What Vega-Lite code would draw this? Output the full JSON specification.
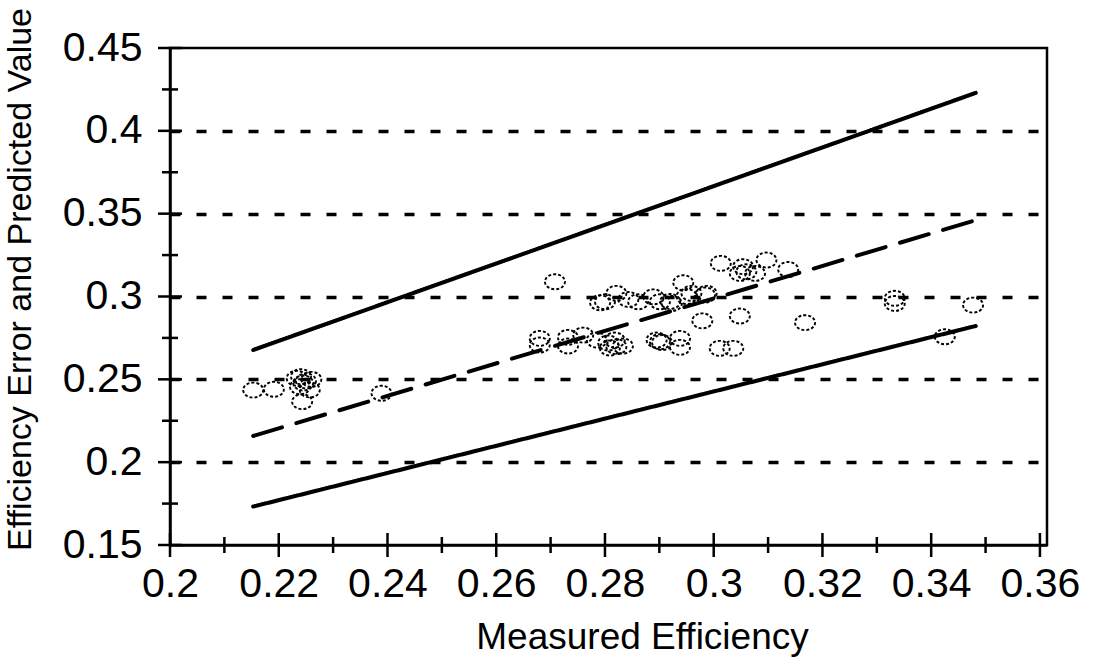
{
  "$schema": "https://vega.github.io/schema/vega-lite/v6.json",
  "autosize": "none",
  "width": 877,
  "height": 497,
  "padding": {"left": 170, "top": 48, "right": 50, "bottom": 126},
  "background": "white",
  "config": {
    "view": {"stroke": "black", "strokeWidth": 2.5},
    "font": "Liberation Sans",
    "axis": {"labelFont": "Liberation Sans", "titleFont": "Liberation Sans", "labelColor": "black", "titleColor": "black", "tickColor": "black", "domainColor": "black", "titleFontWeight": "normal"}
  },
  "datasets": {
    "lines": [
      {"series": "upper", "x": 0.2153, "y": 0.2677},
      {"series": "upper", "x": 0.3482, "y": 0.4229},
      {"series": "mid", "x": 0.2153, "y": 0.2158},
      {"series": "mid", "x": 0.3482, "y": 0.3461},
      {"series": "lower", "x": 0.2153, "y": 0.1732},
      {"series": "lower", "x": 0.3482, "y": 0.2822}
    ],
    "xticks": [
      {"v": 0.2, "kind": "major"}, {"v": 0.21, "kind": "minor"}, {"v": 0.22, "kind": "major"}, {"v": 0.23, "kind": "minor"},
      {"v": 0.24, "kind": "major"}, {"v": 0.25, "kind": "minor"}, {"v": 0.26, "kind": "major"}, {"v": 0.27, "kind": "minor"},
      {"v": 0.28, "kind": "major"}, {"v": 0.29, "kind": "minor"}, {"v": 0.3, "kind": "major"}, {"v": 0.31, "kind": "minor"},
      {"v": 0.32, "kind": "major"}, {"v": 0.33, "kind": "minor"}, {"v": 0.34, "kind": "major"}, {"v": 0.35, "kind": "minor"},
      {"v": 0.36, "kind": "major"}
    ],
    "yticks": [
      {"v": 0.15, "kind": "major"}, {"v": 0.175, "kind": "minor"}, {"v": 0.2, "kind": "major"}, {"v": 0.225, "kind": "minor"},
      {"v": 0.25, "kind": "major"}, {"v": 0.275, "kind": "minor"}, {"v": 0.3, "kind": "major"}, {"v": 0.325, "kind": "minor"},
      {"v": 0.35, "kind": "major"}, {"v": 0.375, "kind": "minor"}, {"v": 0.4, "kind": "major"}, {"v": 0.425, "kind": "minor"},
      {"v": 0.45, "kind": "major"}
    ],
    "points": [
      {"x": 0.2153, "y": 0.2435}, {"x": 0.2191, "y": 0.2440},
      {"x": 0.2233, "y": 0.2506}, {"x": 0.2241, "y": 0.2516}, {"x": 0.2260, "y": 0.2500}, {"x": 0.2245, "y": 0.2478},
      {"x": 0.2239, "y": 0.2455}, {"x": 0.2257, "y": 0.2436}, {"x": 0.2243, "y": 0.2365}, {"x": 0.2250, "y": 0.2490},
      {"x": 0.2389, "y": 0.2416},
      {"x": 0.2708, "y": 0.3089},
      {"x": 0.2680, "y": 0.2747}, {"x": 0.2680, "y": 0.2707}, {"x": 0.2732, "y": 0.2753}, {"x": 0.2732, "y": 0.2701},
      {"x": 0.2760, "y": 0.2767}, {"x": 0.2785, "y": 0.2737}, {"x": 0.2806, "y": 0.2719}, {"x": 0.2818, "y": 0.2737},
      {"x": 0.2821, "y": 0.2697}, {"x": 0.2809, "y": 0.2689}, {"x": 0.2833, "y": 0.2701},
      {"x": 0.2791, "y": 0.2962}, {"x": 0.2800, "y": 0.2968}, {"x": 0.2821, "y": 0.3019}, {"x": 0.2843, "y": 0.2982},
      {"x": 0.2861, "y": 0.2968}, {"x": 0.2889, "y": 0.2998}, {"x": 0.2901, "y": 0.2968}, {"x": 0.2923, "y": 0.2958},
      {"x": 0.2944, "y": 0.3083}, {"x": 0.2959, "y": 0.3019}, {"x": 0.2987, "y": 0.3019}, {"x": 0.2979, "y": 0.2853},
      {"x": 0.2920, "y": 0.2970}, {"x": 0.2950, "y": 0.3000},
      {"x": 0.2895, "y": 0.2737}, {"x": 0.2901, "y": 0.2727}, {"x": 0.2905, "y": 0.2722}, {"x": 0.2938, "y": 0.2747},
      {"x": 0.2938, "y": 0.2693}, {"x": 0.3011, "y": 0.2687}, {"x": 0.3036, "y": 0.2687},
      {"x": 0.3013, "y": 0.3200}, {"x": 0.3054, "y": 0.3180}, {"x": 0.3060, "y": 0.3149}, {"x": 0.3076, "y": 0.3139},
      {"x": 0.3048, "y": 0.3139}, {"x": 0.3097, "y": 0.3220}, {"x": 0.3137, "y": 0.3163}, {"x": 0.2984, "y": 0.3009},
      {"x": 0.3048, "y": 0.2882}, {"x": 0.3168, "y": 0.2842},
      {"x": 0.3333, "y": 0.2989}, {"x": 0.3333, "y": 0.2958}, {"x": 0.3477, "y": 0.2948}, {"x": 0.3425, "y": 0.2757}
    ]
  },
  "layer": [
    {
      "data": {"name": "lines"},
      "mark": {"type": "line", "color": "black", "strokeWidth": 4, "strokeCap": "round"},
      "encoding": {
        "x": {
          "field": "x", "type": "quantitative",
          "scale": {"domain": [0.2, 0.3613], "nice": false, "zero": false},
          "axis": {
            "orient": "bottom",
            "title": "Measured Efficiency", "titleFontSize": 37,
            "titleX": 472, "titleY": 92, "titleAlign": "center", "titleBaseline": "middle",
            "values": [0.2, 0.22, 0.24, 0.26, 0.28, 0.3, 0.32, 0.34, 0.36],
            "format": "~g",
            "labelFontSize": 41, "labelPadding": 19, "labelFlush": false, "labelOverlap": false,
            "domain": true, "domainWidth": 2.5,
            "ticks": false,
            "grid": false
          }
        },
        "y": {
          "field": "y", "type": "quantitative",
          "scale": {"domain": [0.15, 0.45], "nice": false, "zero": false},
          "axis": {
            "orient": "left",
            "title": "Efficiency Error and Predicted Value", "titleFontSize": 34,
            "titleX": -150, "titleY": 231, "titleAlign": "center", "titleBaseline": "middle", "titleAngle": -90,
            "values": [0.15, 0.2, 0.25, 0.3, 0.35, 0.4, 0.45],
            "format": "~g",
            "labelFontSize": 41, "labelPadding": 28, "labelFlush": false, "labelOverlap": false,
            "domain": true, "domainWidth": 2.5,
            "ticks": false,
            "grid": true, "gridColor": "black", "gridWidth": 3.5, "gridDash": [10, 16],
            "gridOpacity": {"condition": {"test": "datum.value > 0.16 && datum.value < 0.44", "value": 1}, "value": 0}
          }
        },
        "detail": {"field": "series"},
        "strokeDash": {
          "field": "series", "type": "nominal",
          "scale": {"domain": ["upper", "mid", "lower"], "range": [[1, 0], [30, 15], [1, 0]]},
          "legend": null
        }
      }
    },
    {
      "data": {"name": "xticks"},
      "mark": {"type": "tick", "orient": "vertical", "color": "black", "thickness": 2.5, "opacity": 1},
      "encoding": {
        "x": {"field": "v", "type": "quantitative"},
        "y": {"datum": 0.15, "type": "quantitative"},
        "size": {"field": "kind", "type": "nominal", "scale": {"domain": ["major", "minor"], "range": [24, 16]}, "legend": null}
      }
    },
    {
      "data": {"name": "yticks"},
      "mark": {"type": "tick", "orient": "horizontal", "color": "black", "thickness": 2.5, "opacity": 1},
      "encoding": {
        "y": {"field": "v", "type": "quantitative"},
        "x": {"datum": 0.2, "type": "quantitative"},
        "size": {"field": "kind", "type": "nominal", "scale": {"domain": ["major", "minor"], "range": [24, 16]}, "legend": null}
      }
    },
    {
      "data": {"name": "points"},
      "mark": {
        "type": "point",
        "shape": "M -1 0 A 1 0.75 0 1 0 1 0 A 1 0.75 0 1 0 -1 0 Z",
        "size": 400, "filled": false, "stroke": "black", "strokeWidth": 1.9, "strokeDash": [3, 2], "opacity": 1
      },
      "encoding": {
        "x": {"field": "x", "type": "quantitative"},
        "y": {"field": "y", "type": "quantitative"}
      }
    }
  ]
}
